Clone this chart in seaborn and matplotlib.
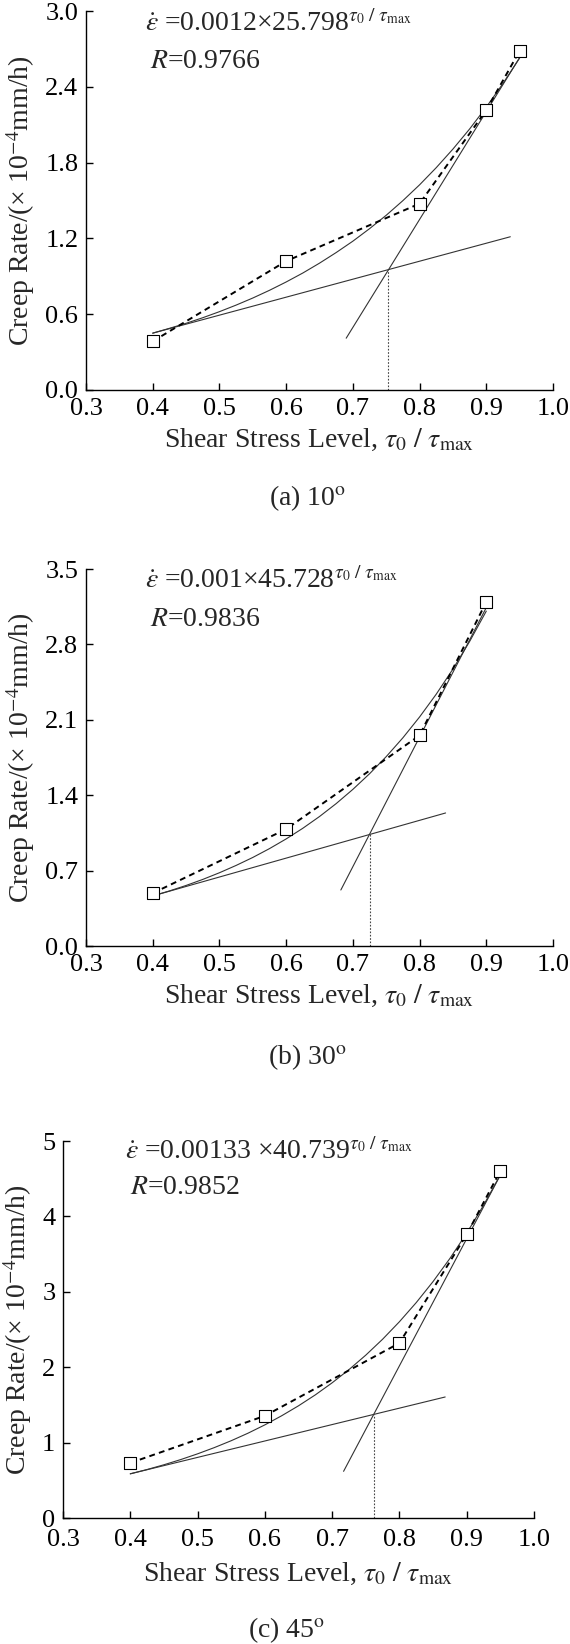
import numpy as np
import pandas as pd
import seaborn as sns
import matplotlib
matplotlib.use('Agg')
import matplotlib.pyplot as plt

# measured creep rates (x10^-4 mm/h) at each shear stress level
stress_a = [0.4, 0.6, 0.8, 0.9, 0.95]
rate_a = [0.385, 1.02, 1.475, 2.215, 2.685]
stress_b = [0.4, 0.6, 0.8, 0.9]
rate_b = [0.49, 1.085, 1.955, 3.195]
stress_c = [0.4, 0.6, 0.8, 0.9, 0.95]
rate_c = [0.73, 1.355, 2.32, 3.76, 4.605]

# exponential fit curves
fit_x_a = [0.4, 0.425, 0.45, 0.475, 0.5, 0.525, 0.55, 0.575, 0.6, 0.625, 0.65, 0.675,
           0.7, 0.725, 0.75, 0.775, 0.8, 0.825, 0.85, 0.875, 0.9, 0.925, 0.95]
fit_y_a = [0.450, 0.488, 0.528, 0.572, 0.620, 0.672, 0.728, 0.789, 0.855, 0.926, 1.004, 1.088,
           1.178, 1.277, 1.383, 1.499, 1.624, 1.760, 1.907, 2.066, 2.239, 2.426, 2.628]
fit_x_b = [0.4, 0.425, 0.45, 0.475, 0.5, 0.525, 0.55, 0.575, 0.6, 0.625, 0.65, 0.675,
           0.7, 0.725, 0.75, 0.775, 0.8, 0.825, 0.85, 0.875, 0.9]
fit_y_b = [0.465, 0.511, 0.562, 0.618, 0.680, 0.748, 0.822, 0.904, 0.994, 1.093, 1.202, 1.322,
           1.454, 1.599, 1.758, 1.933, 2.126, 2.338, 2.571, 2.827, 3.109]
fit_x_c = [0.4, 0.425, 0.45, 0.475, 0.5, 0.525, 0.55, 0.575, 0.6, 0.625, 0.65, 0.675,
           0.7, 0.725, 0.75, 0.775, 0.8, 0.825, 0.85, 0.875, 0.9, 0.925, 0.95]
fit_y_c = [0.586, 0.643, 0.706, 0.775, 0.851, 0.934, 1.025, 1.125, 1.235, 1.356, 1.488, 1.633,
           1.793, 1.968, 2.160, 2.371, 2.603, 2.857, 3.136, 3.442, 3.778, 4.147, 4.552]

# tangent lines (end points) and their intersection
low_tan_a = ([0.4, 0.936], [0.45, 1.213])
high_tan_a = ([0.69, 0.951], [0.41, 2.64])
cross_a = (0.753, 0.952)
low_tan_b = ([0.4, 0.839], [0.465, 1.235])
high_tan_b = ([0.682, 0.899], [0.52, 3.13])
cross_b = (0.7255, 1.04)
low_tan_c = ([0.4, 0.868], [0.586, 1.605])
high_tan_c = ([0.717, 0.95], [0.619, 4.548])
cross_c = (0.762, 1.375)

equations = [r'$\dot{\varepsilon}$ =0.0012×25.798$^{\tau_0\ /\ \tau_{\mathrm{max}}}$',
             r'$\dot{\varepsilon}$ =0.001×45.728$^{\tau_0\ /\ \tau_{\mathrm{max}}}$',
             r'$\dot{\varepsilon}$ =0.00133 ×40.739$^{\tau_0\ /\ \tau_{\mathrm{max}}}$']
r_values = ['$R$=0.9766', '$R$=0.9836', '$R$=0.9852']
captions = [r'(a) 10$^{\mathrm{o}}$', r'(b) 30$^{\mathrm{o}}$', r'(c) 45$^{\mathrm{o}}$']
y_ticks = [[0.0, 0.6, 1.2, 1.8, 2.4, 3.0],
           [0.0, 0.7, 1.4, 2.1, 2.8, 3.5],
           [0, 1, 2, 3, 4, 5]]
x_ticks = [0.3, 0.4, 0.5, 0.6, 0.7, 0.8, 0.9, 1.0]

sns.set_theme(style='ticks')
plt.rcParams['font.family'] = ['Liberation Serif', 'DejaVu Serif']
plt.rcParams['mathtext.fontset'] = 'stix'

fig = plt.figure(figsize=(5.7, 16.44), dpi=100)
H = 1644.0
W = 570.0
# (left px, right px, top px, bottom px)
boxes = [(86, 553, 11, 390), (86, 553, 569, 946), (63, 534, 1141, 1518)]
caption_y = [498, 1057, 1630]
xtick_pad = [5.5, 5.5, 8]
xlabel_pad = [5, 5, 7]
text_pos = [((0.127, 0.967), (0.137, 0.867)),
            ((0.127, 0.969), (0.137, 0.866)),
            ((0.131, 0.971), (0.143, 0.876))]

panels = [
    (stress_a, rate_a, fit_x_a, fit_y_a, low_tan_a, high_tan_a, cross_a),
    (stress_b, rate_b, fit_x_b, fit_y_b, low_tan_b, high_tan_b, cross_b),
    (stress_c, rate_c, fit_x_c, fit_y_c, low_tan_c, high_tan_c, cross_c),
]

for i, (sx, sy, fx, fy, lt, ht, cr) in enumerate(panels):
    l, r, t, b = boxes[i]
    ax = fig.add_axes([l / W, 1 - b / H, (r - l) / W, (b - t) / H])

    pts = pd.DataFrame({'x': sx, 'y': sy})
    fit = pd.DataFrame({'x': fx, 'y': fy})

    sns.lineplot(data=fit, x='x', y='y', ax=ax, color='#333333', lw=0.8)
    sns.lineplot(x=lt[0], y=lt[1], ax=ax, color='#333333', lw=0.8)
    sns.lineplot(x=ht[0], y=ht[1], ax=ax, color='#333333', lw=0.8)
    sns.lineplot(data=pts, x='x', y='y', ax=ax, color='black', lw=1.4,
                 linestyle=(0, (3, 2.2)))
    ax.vlines(cr[0], 0, cr[1], colors='#444444', linestyles=(0, (1.5, 1.5)), lw=0.8)
    sns.scatterplot(data=pts, x='x', y='y', ax=ax, marker='s', s=64,
                    facecolor='white', edgecolor='black', linewidth=0.8, zorder=5)

    ax.set_xlim(0.3, 1.0)
    ax.set_ylim(y_ticks[i][0], y_ticks[i][-1])
    ax.set_xticks(x_ticks)
    ax.set_xticklabels(['%.1f' % v for v in x_ticks])
    ax.set_yticks(y_ticks[i])
    if i < 2:
        ax.set_yticklabels(['%.1f' % v for v in y_ticks[i]])
    else:
        ax.set_yticklabels(['%d' % v for v in y_ticks[i]])
    ax.tick_params(direction='in', length=5, width=1, labelsize=19, pad=5.5, colors='black')
    ax.tick_params(axis='x', pad=xtick_pad[i])
    for s in ['top', 'right']:
        ax.spines[s].set_visible(False)
    for s in ['left', 'bottom']:
        ax.spines[s].set_linewidth(1)
        ax.spines[s].set_color('black')

    ax.set_xlabel(r'Shear Stress Level, $\tau_0\ /\ \tau_{\mathrm{max}}$', fontsize=20,
                  labelpad=xlabel_pad[i])
    ax.set_ylabel(r'Creep Rate/(× 10$^{-4}$mm/h)', fontsize=20, labelpad=6)

    (ex, ey), (rx, ry) = text_pos[i]
    ax.text(ex, ey, equations[i], transform=ax.transAxes, fontsize=20, va='center', ha='left')
    ax.text(rx, ry, r_values[i], transform=ax.transAxes, fontsize=20, va='center', ha='left')

    fig.text(((l + r) / 2 - 12) / W, 1 - caption_y[i] / H, captions[i], fontsize=20,
             ha='center', va='center')

fig.savefig('out.png', dpi=100)
